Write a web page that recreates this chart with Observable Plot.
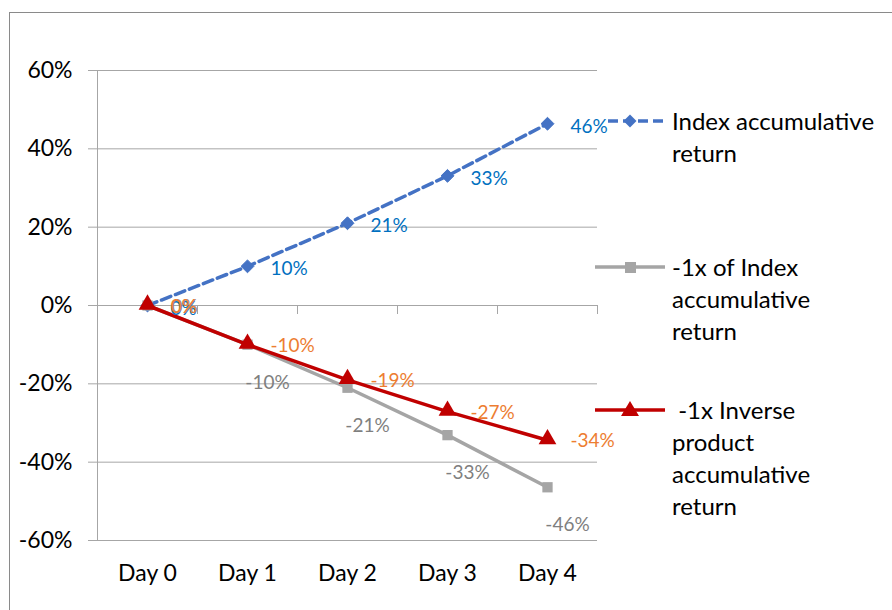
<!DOCTYPE html>
<html>
<head>
<meta charset="utf-8">
<script src="https://cdn.jsdelivr.net/npm/d3@7"></script>
<script src="https://cdn.jsdelivr.net/npm/@observablehq/plot@0.6"></script>
<style>
  html, body { margin: 0; padding: 0; background: #fff; }
  body { width: 892px; height: 610px; overflow: hidden; position: relative; font-family: Lato, "Noto Sans", sans-serif; }
  #border { position: absolute; left: 9px; top: 12px; width: 1000px; height: 1000px; border-left: 1px solid #8a8a8a; border-top: 1px solid #8a8a8a; box-sizing: border-box; }
  #chart { position: absolute; left: 0; top: 0; }
  .legend { position: absolute; font-size: 24px; line-height: 32px; color: #000; white-space: pre; }
  .sw { position: absolute; overflow: visible; }
</style>
</head>
<body>
<div id="border"></div>
<div id="chart"></div>
<script>
// ---- data ----
const days = ["Day 0", "Day 1", "Day 2", "Day 3", "Day 4"];
const indexReturn = [0, 0.10, 0.21, 0.331, 0.4641];
const minusIndexReturn = [0, -0.10, -0.21, -0.331, -0.4641];
const inverseReturn = [0, -0.10, -0.19, -0.271, -0.344];
const yTicks = [-0.6, -0.4, -0.2, 0, 0.2, 0.4, 0.6];
const seriesNames = ["Index accumulative\nreturn", "-1x of Index\naccumulative\nreturn", " -1x Inverse\nproduct\naccumulative\nreturn"];

// ---- layout / style ----
const W = 892, H = 610;
const mL = 97, mR = 295, mT = 70, mB = 70;
const gridColor = "#a6a6a6";
const blue = "#4472c4", gray = "#a5a5a5", red = "#c00000";
const blueLbl = "#0070c0", grayLbl = "#7f7f7f", orangeLbl = "#ed7d31";
const step = (W - mL - mR) / days.length;

const pct = d => Math.round(d * 100) + "%";
const rows = vals => days.map((d, i) => ({day: d, v: vals[i], i}));
const idx = rows(indexReturn), neg = rows(minusIndexReturn), inv = rows(inverseReturn);

const chart = Plot.plot({
  width: W, height: H,
  marginLeft: mL, marginRight: mR, marginTop: mT, marginBottom: mB,
  style: {fontFamily: "Lato, 'Noto Sans', sans-serif", background: "transparent", color: "#000"},
  x: {type: "point", domain: days, padding: 0.5, label: null},
  y: {domain: [-0.6, 0.6], label: null},
  marks: [
    Plot.gridY(yTicks, {stroke: gridColor, strokeOpacity: 1, strokeWidth: 1}),
    Plot.axisY(yTicks, {tickFormat: pct, tickSize: 9, tickPadding: 16, fontSize: 23, stroke: gridColor, fill: "#000", label: null}),
    Plot.frame({anchor: "left", stroke: gridColor}),
    Plot.ruleY([0], {stroke: gridColor}),
    Plot.ruleX(days, {x: d => d, dx: step / 2, y1: 0, y2: 0, insetBottom: -9, stroke: gridColor}),
    Plot.axisX({tickSize: 0, tickPadding: 24, fontSize: 23, fill: "#000", label: null}),
    // Index series
    Plot.line(idx, {x: "day", y: "v", stroke: blue, strokeWidth: 3.5, strokeDasharray: "10,5"}),
    Plot.dot(idx, {x: "day", y: "v", symbol: "diamond2", r: 5.8, fill: blue, stroke: blue, strokeWidth: 1}),
    // -1x of index
    Plot.line(neg, {x: "day", y: "v", stroke: gray, strokeWidth: 3.5}),
    Plot.dot(neg, {x: "day", y: "v", symbol: "square", r: 5.8, fill: gray}),
    // inverse product
    Plot.line(inv, {x: "day", y: "v", stroke: red, strokeWidth: 3.5}),
    Plot.dot(inv, {x: "day", y: "v", symbol: "triangle", r: 6.6, fill: red, dy: -1}),
    // labels
    Plot.text(idx, {x: "day", y: "v", text: d => pct(d.v), fill: blueLbl, fontSize: 19, textAnchor: "start", dx: 23, dy: 3}),
    Plot.text(neg.filter(d => d.i === 0), {x: "day", y: "v", text: d => pct(d.v), fill: grayLbl, fontSize: 19, textAnchor: "start", dx: 24, dy: 1}),
    Plot.text(neg.filter(d => d.i > 0), {x: "day", y: "v", text: d => pct(d.v), fill: grayLbl, fontSize: 19, textAnchor: "middle", dx: 20, dy: 38}),
    Plot.text(inv, {x: "day", y: "v", text: d => pct(d.v), fill: orangeLbl, fontSize: 19, textAnchor: "start", dx: 23, dy: 1})
  ]
});
document.getElementById("chart").appendChild(chart);

// ---- legend (HTML over the right side) ----
const legendTops = [105, 251, 394];
const swatch = [
  `<line x1="13" y1="16" x2="70" y2="16" stroke="${blue}" stroke-width="3.5" stroke-dasharray="10,5"/><path d="M35,9.5 L41.5,16 L35,22.5 L28.5,16 Z" fill="${blue}"/>`,
  `<line x1="0" y1="16" x2="70" y2="16" stroke="${gray}" stroke-width="3.5"/><rect x="30" y="11" width="11" height="11" fill="${gray}"/>`,
  `<line x1="0" y1="16" x2="70" y2="16" stroke="${red}" stroke-width="3.5"/><path d="M35,7 L44,22 L26,22 Z" fill="${red}"/>`
];
seriesNames.forEach((name, k) => {
  const s = document.createElementNS("http://www.w3.org/2000/svg", "svg");
  s.setAttribute("class", "sw");
  s.setAttribute("width", 72); s.setAttribute("height", 32);
  s.style.left = "595px"; s.style.top = legendTops[k] + "px";
  s.innerHTML = swatch[k];
  document.body.appendChild(s);
  const t = document.createElement("div");
  t.className = "legend";
  t.style.left = "672px"; t.style.top = legendTops[k] + "px";
  t.textContent = name;
  document.body.appendChild(t);
});
</script>
</body>
</html>
